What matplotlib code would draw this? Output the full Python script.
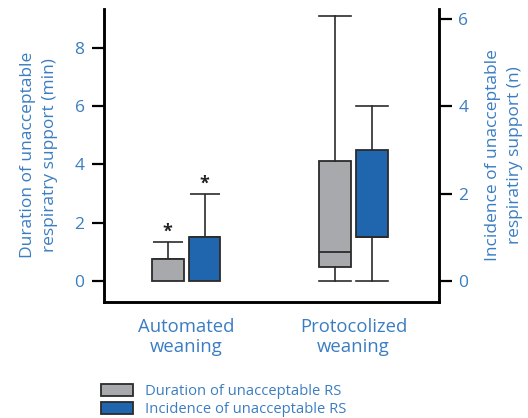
import matplotlib.pyplot as plt
from matplotlib.patches import Patch

# ---------- data ----------
groups = ["Automated\nweaning", "Protocolized\nweaning"]
series = ["Duration of unacceptable RS", "Incidence of unacceptable RS"]

# automated weaning: bar + upper error
auto_duration_mean = 0.74
auto_duration_err = 0.59
auto_incidence_mean = 1.0
auto_incidence_err = 1.0

# protocolized weaning: box stats (whislo, q1, med, q3, whishi)
proto_duration_box = [0.0, 0.48, 1.0, 4.12, 9.1]
proto_incidence_box = [0.0, 1.0, 1.0, 3.0, 4.0]

left_ticks = [0, 2, 4, 6, 8]
right_ticks = [0, 2, 4, 6]

# ---------- style ----------
GRAY = "#a7a9ac"
BLUE = "#1f66ae"
TXT = "#3a7dc2"
EDGE = "#2b2b2b"
plt.rcParams["font.family"] = ["Open Sans", "DejaVu Sans"]

fig = plt.figure(figsize=(5.28, 4.18), dpi=100)
ax = fig.add_axes([104 / 528, 116.3 / 418, 335 / 528, 292.7 / 418])
ax2 = ax.twinx()

pos = [0.245, 0.745]
off = 0.055
w = 0.095

# automated bars
ax.bar(pos[0] - off, auto_duration_mean, width=w, color=GRAY,
       edgecolor=EDGE, linewidth=1.3, zorder=2)
ax.errorbar(pos[0] - off, auto_duration_mean, yerr=[[0], [auto_duration_err]],
            color=EDGE, capsize=11, elinewidth=1.2, capthick=1.2, zorder=1)
ax2.bar(pos[0] + off, auto_incidence_mean, width=w, color=BLUE,
        edgecolor=EDGE, linewidth=1.3, zorder=2)
ax2.errorbar(pos[0] + off, auto_incidence_mean, yerr=[[0], [auto_incidence_err]],
             color=EDGE, capsize=11, elinewidth=1.2, capthick=1.2, zorder=1)

# significance stars
ax.annotate("*", (pos[0] - off, auto_duration_mean + auto_duration_err),
            xytext=(0, 1), textcoords="offset points", ha="center",
            va="bottom", fontsize=13, fontweight="bold", color="#222222")
ax2.annotate("*", (pos[0] + off, auto_incidence_mean + auto_incidence_err),
             xytext=(0, 1), textcoords="offset points", ha="center",
             va="bottom", fontsize=13, fontweight="bold", color="#222222")


def box_stats(v):
    return dict(whislo=v[0], q1=v[1], med=v[2], q3=v[3], whishi=v[4], fliers=[])


lineprops = dict(color=EDGE, linewidth=1.2)
ax.bxp([box_stats(proto_duration_box)], positions=[pos[1] - off], widths=w,
       capwidths=w, patch_artist=True, showfliers=False,
       boxprops=dict(facecolor=GRAY, edgecolor=EDGE, linewidth=1.3),
       medianprops=dict(color=EDGE, linewidth=1.3),
       whiskerprops=lineprops, capprops=lineprops)
ax2.bxp([box_stats(proto_incidence_box)], positions=[pos[1] + off], widths=w,
        capwidths=w, patch_artist=True, showfliers=False,
        boxprops=dict(facecolor=BLUE, edgecolor=EDGE, linewidth=1.3),
        medianprops=dict(color=EDGE, linewidth=1.3),
        whiskerprops=lineprops, capprops=lineprops)

# ---------- axes ----------
ax.set_xlim(0, 1)
ax.set_ylim(-0.71, 9.33)
ax2.set_ylim(-0.474, 6.23)

ax.set_xticks(pos)
ax.set_xticklabels(groups, fontsize=13.3, color=TXT, linespacing=1.1)
ax.tick_params(axis="x", length=0, pad=12)

ax.set_yticks(left_ticks)
ax2.set_yticks(right_ticks)
for a in (ax, ax2):
    a.tick_params(axis="y", direction="out", length=9, width=1.6,
                  labelsize=12.5, labelcolor=TXT, color="black", pad=5)
    a.spines["top"].set_visible(False)
    for s in ("left", "right", "bottom"):
        a.spines[s].set_linewidth(1.8)
        a.spines[s].set_color("black")

ax.set_ylabel("Duration of unacceptable\nrespiratry support (min)",
              fontsize=12.5, color=TXT, labelpad=12, linespacing=1.5)
ax2.set_ylabel("Incidence of unacceptable\nrespiratiry support (n)",
               fontsize=12.5, color=TXT, labelpad=12, linespacing=1.5,
               rotation=90)

handles = [Patch(facecolor=GRAY, edgecolor=EDGE, linewidth=1.3),
           Patch(facecolor=BLUE, edgecolor=EDGE, linewidth=1.3)]
leg = fig.legend(handles, series, loc="upper left",
                 bbox_to_anchor=(101 / 528, 1 - 384 / 418), frameon=False,
                 fontsize=10.6, handlelength=2.2, handleheight=0.8,
                 handletextpad=0.8, labelspacing=0.22, borderpad=0,
                 borderaxespad=0)
for t in leg.get_texts():
    t.set_color(TXT)

fig.savefig("out.png", dpi=100)
